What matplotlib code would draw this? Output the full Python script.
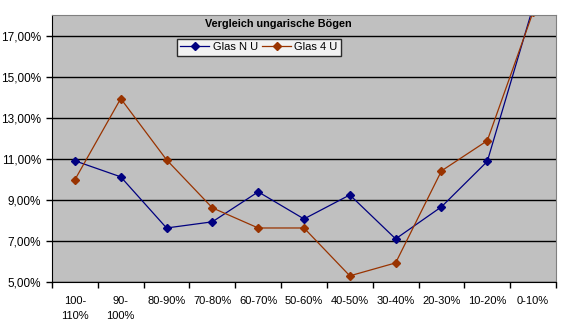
import numpy as np
import matplotlib.pyplot as plt
from matplotlib.ticker import FixedLocator, FuncFormatter

plt.rcParams['font.family'] = ['Liberation Sans', 'DejaVu Sans']

categories = ["100-\n110%", "90-\n100%", "80-90%", "70-80%", "60-70%", "50-60%",
              "40-50%", "30-40%", "20-30%", "10-20%", "0-10%"]
glas_n_u = [10.9, 10.12, 7.63, 7.93, 9.39, 8.07, 9.24, 7.10, 8.66, 10.87, 18.4]
glas_4_u = [9.98, 13.93, 10.95, 8.61, 7.63, 7.63, 5.30, 5.93, 10.41, 11.88, 18.15]

fig = plt.figure(figsize=(5.61, 3.36), dpi=100)
ax = fig.add_axes([52 / 561, 1 - 282 / 336, 504 / 561, 267 / 336])
ax.set_facecolor('#c0c0c0')

x = np.arange(len(categories))
ax.plot(x, glas_n_u, color='#000080', lw=0.9, marker='D', ms=4, label='Glas N U')
ax.plot(x, glas_4_u, color='#993300', lw=0.9, marker='D', ms=4, label='Glas 4 U')

ax.set_xlim(-0.5, len(categories) - 0.5)
ax.set_ylim(5, 18)
ax.set_yticks(np.arange(5, 18, 2))
ax.yaxis.set_major_formatter(FuncFormatter(lambda v, p: f"{v:.2f}%".replace('.', ',')))
ax.yaxis.grid(True, color='black', lw=1)
ax.set_axisbelow(True)

ax.set_xticks(x)
ax.set_xticklabels(categories, linespacing=1.7)
ax.xaxis.set_minor_locator(FixedLocator(np.arange(-0.5, len(categories), 1)))
ax.tick_params(axis='x', which='major', length=0, pad=10, labelsize=8)
ax.tick_params(axis='x', which='minor', length=4, width=1, direction='out')
ax.tick_params(axis='y', length=4, width=1, direction='out', labelsize=8.5, pad=4)

for s in ['top', 'right']:
    ax.spines[s].set_color('#808080')
for s in ['left', 'bottom']:
    ax.spines[s].set_color('black')

ax.text(0.45, 0.985, "Vergleich ungarische Bögen", transform=ax.transAxes,
        ha='center', va='top', fontsize=7.8, fontweight='bold')

leg = ax.legend(loc='upper left', bbox_to_anchor=(125 / 504, 1 - 24 / 267), ncol=2,
                fontsize=8, frameon=True, fancybox=False, borderpad=0.3,
                handlelength=2.6, handletextpad=0.3, columnspacing=0.4,
                borderaxespad=0)
leg.get_frame().set_edgecolor('black')
leg.get_frame().set_facecolor('white')
leg.get_frame().set_linewidth(1)

fig.savefig('out.png', dpi=100)
